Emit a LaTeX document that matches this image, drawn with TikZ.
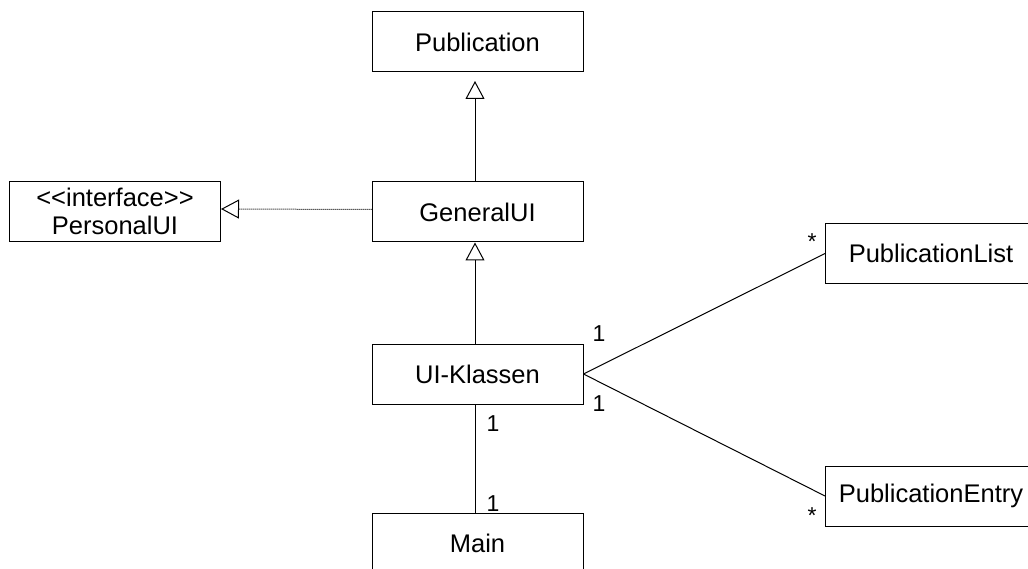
\documentclass[tikz,border=0pt]{standalone}
\usepackage{fontspec}
\setmainfont{Liberation Sans}
\usetikzlibrary{arrows.meta}
\begin{document}
\begin{tikzpicture}[x=1pt,y=-1pt,
  cls/.style={draw, line width=1pt, minimum width=211pt, minimum height=60pt,
    inner sep=0pt, align=center, font=\fontsize{25.5}{27.5}\selectfont},
  link/.style={line width=1pt},
  gen/.style={link, -{Triangle[open, length=18pt, width=19pt]}},
  realize/.style={gen, dash pattern=on 1pt off 1pt},
  mult/.style={inner sep=0pt, font=\fontsize{23}{23}\selectfont},
]
\useasboundingbox (0,0) rectangle (1028,569);
\clip (0,0) rectangle (1028,569);

% classes
\node[cls] (pub)    at (477.5,42)  {Publication};
\node[cls] (gui)    at (477.5,212) {GeneralUI};
\node[cls] (pui)    at (115,211.5) {<{}<interface>{}>\\PersonalUI};
\node[cls] (uik)    at (477.5,374) {UI-Klassen};
\node[cls] (main)   at (477.5,543) {Main};
\node[cls] (plist)  at (931,253.5) {PublicationList};
\node[cls] (pentry) at (931,496)   {PublicationEntry};

% generalisation and realisation
\draw[gen, shorten >=8.5pt] ([xshift=-2.5pt]gui.north) -- ([xshift=-2.5pt]pub.south);
\draw[gen] ([xshift=-2.5pt]uik.north) -- ([xshift=-2.5pt]gui.south);
\draw[realize] ([yshift=2.5pt]gui.west) -- ([yshift=2.5pt]pui.east);

% associations
\draw[link] (uik.east) -- (plist.west);
\draw[link] (uik.east) -- (pentry.west);
\draw[link] ([xshift=-2.5pt]uik.south) -- ([xshift=-2.5pt]main.north);

% multiplicities
\node[mult] (m1) at (599,334) {1};
\node[mult] (m2) at (599,404) {1};
\node[mult] (m3) at (493,424) {1};
\node[mult] (m4) at (493,504) {1};
\node[mult, anchor=base] (m5) at (812,250) {*};
\node[mult, anchor=base] (m6) at (812,523) {*};
\end{tikzpicture}
\end{document}
